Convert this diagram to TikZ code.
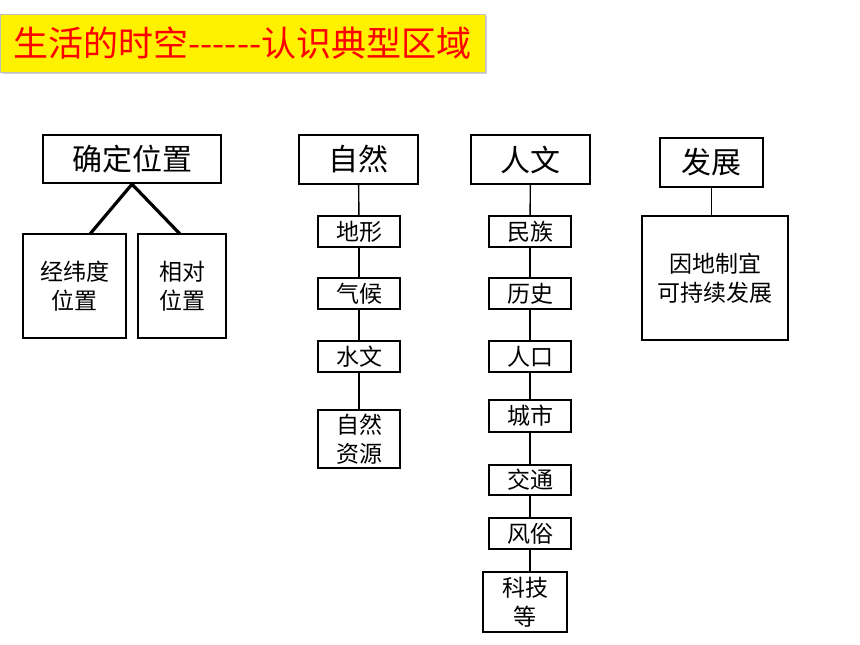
\documentclass[tikz,border=0pt]{standalone}
\usepackage{fontspec}
\setmainfont{Noto Sans CJK SC}
\usepackage{tikz}
\usetikzlibrary{positioning,shadows}

\newcommand{\hy}{-\kern0pt}

\begin{document}
\begin{tikzpicture}[x=1pt,y=-1pt,
  bigbox/.style={draw,line width=2.4pt,inner sep=0pt,font=\fontsize{30}{34}\selectfont},
  smallbox/.style={draw,line width=2pt,inner sep=0pt,align=center,font=\fontsize{23}{29}\selectfont},
  link/.style={line width=1.4pt}]
\useasboundingbox (0,0) rectangle (860,645);

% title
\node (T) at (242.5,43) [fill=yellow,draw=black!25,line width=.6pt,minimum width=485pt,minimum height=58pt,
  drop shadow={shadow xshift=1.5pt,shadow yshift=-2pt,opacity=.35},
  text=red,font=\fontsize{35}{40}\selectfont] {生活的时空\hy\hy\hy\hy\hy\hy 认识典型区域};

% position
\node (loc) at (132,159) [bigbox,minimum width=178pt,minimum height=48pt] {确定位置};
\node (lat) at (74.5,286) [smallbox,minimum width=103pt,minimum height=104pt] {经纬度\\位置};
\node (rel) at (182,286) [smallbox,minimum width=88pt,minimum height=104pt] {相对\\位置};
\coordinate (latTop) at (90,234);
\coordinate (relTop) at (180,234);
\draw [line width=3.2pt] (latTop) -- (loc.south) -- (relTop);

% nature
\node (nat) at (358.5,159.5) [bigbox,minimum width=119pt,minimum height=49pt] {自然};
\node (dx) at (359,231.5) [smallbox,minimum width=82pt,minimum height=31pt] {地形};
\node (qh) at (359,293.5) [smallbox,minimum width=82pt,minimum height=31pt] {气候};
\node (sw) at (359,356.5) [smallbox,minimum width=82pt,minimum height=31pt] {水文};
\node (zy) at (359,439) [smallbox,minimum width=82pt,minimum height=58pt] {自然\\资源};

% human
\node (hum) at (530.5,159.5) [bigbox,minimum width=119pt,minimum height=49pt] {人文};
\node (mz) at (530,231.5) [smallbox,minimum width=82pt,minimum height=31pt] {民族};
\node (ls) at (530,293.5) [smallbox,minimum width=82pt,minimum height=31pt] {历史};
\node (rk) at (530,356.5) [smallbox,minimum width=82pt,minimum height=31pt] {人口};
\node (cs) at (530,416) [smallbox,minimum width=82pt,minimum height=32pt] {城市};
\node (jt) at (530,480) [smallbox,minimum width=82pt,minimum height=30pt] {交通};
\node (fs) at (530,533.5) [smallbox,minimum width=82pt,minimum height=31pt] {风俗};
\node (kj) at (525,602) [smallbox,minimum width=84pt,minimum height=60pt] {科技\\等};

% development
\node (dev) at (711.5,162.5) [bigbox,minimum width=103pt,minimum height=49pt] {发展};
\node (sus) at (715,278) [smallbox,minimum width=146pt,minimum height=124pt] {因地制宜\\可持续发展};

\foreach \from/\to in {nat/dx,dx/qh,qh/sw,sw/zy,hum/mz,mz/ls,ls/rk,rk/cs,cs/jt,jt/fs}
\draw [link] (\from) -- (\to);
\draw [link] (fs.south) -- (fs.south |- kj.north);
\draw [link] (dev.south) -- (dev.south |- sus.north);
\end{tikzpicture}
\end{document}
